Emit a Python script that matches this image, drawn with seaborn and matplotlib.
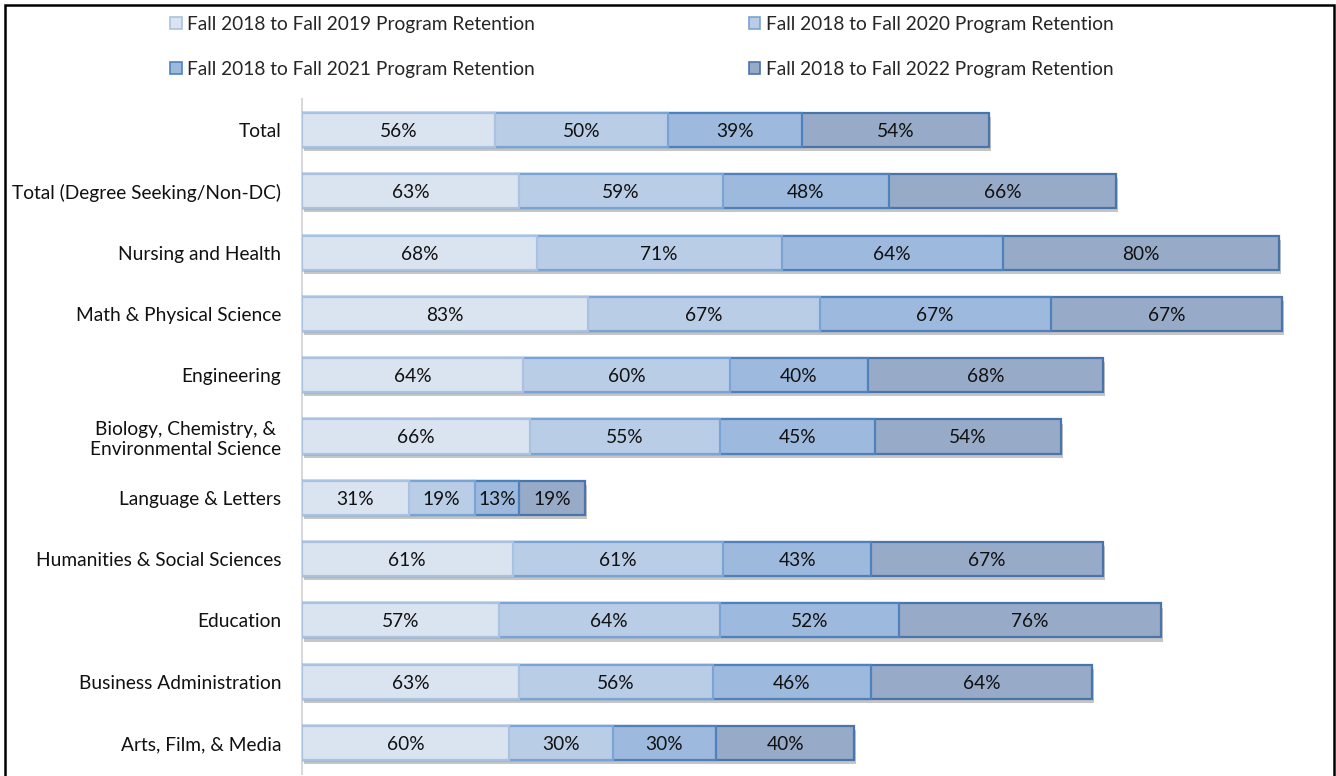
import numpy as np
import pandas as pd
import matplotlib
matplotlib.use("Agg")
import matplotlib.pyplot as plt
import matplotlib.patheffects as pe
from matplotlib.patches import Patch, Rectangle
import seaborn as sns

categories = ["Total", "Total (Degree Seeking/Non-DC)", "Nursing and Health",
              "Math & Physical Science", "Engineering",
              "Biology, Chemistry, &\nEnvironmental Science", "Language & Letters",
              "Humanities & Social Sciences", "Education", "Business Administration",
              "Arts, Film, & Media"]
r2019 = [56, 63, 68, 83, 64, 66, 31, 61, 57, 63, 60]
r2020 = [50, 59, 71, 67, 60, 55, 19, 61, 64, 56, 30]
r2021 = [39, 48, 64, 67, 40, 45, 13, 43, 52, 46, 30]
r2022 = [54, 66, 80, 67, 68, 54, 19, 67, 76, 64, 40]
series_names = ["Fall 2018 to Fall 2019 Program Retention",
                "Fall 2018 to Fall 2020 Program Retention",
                "Fall 2018 to Fall 2021 Program Retention",
                "Fall 2018 to Fall 2022 Program Retention"]
series = [r2019, r2020, r2021, r2022]

fills = ["#dae4f1", "#b9cde6", "#9dbade", "#97aac8"]
edges = ["#a9c2e0", "#7aa3d6", "#4f81bd", "#4a75ab"]

FS = 13.8

sns.set_theme(style="white")
plt.rcParams["font.family"] = ["Lato", "DejaVu Sans"]

fig = plt.figure(figsize=(13.36, 7.76), dpi=100)
ax = fig.add_axes([302 / 1336, 0.003, (1320 - 302) / 1336, 0.869])

vals = np.array(series, dtype=float)
cum = np.cumsum(vals, axis=0)

# draw from the full stack down so shorter layers overlay
for k in range(3, -1, -1):
    df = pd.DataFrame({"cat": categories, "cum": cum[k]})
    sns.barplot(data=df, x="cum", y="cat", orient="h", color=fills[k],
                edgecolor=edges[k], linewidth=1.6, width=0.555,
                errorbar=None, saturation=1, ax=ax, zorder=3 + (3 - k))
    if k == 3:
        for p in ax.patches:
            p.set_path_effects([pe.SimplePatchShadow(offset=(1.5, -3),
                                                     shadow_rgbFace="#7f7f7f",
                                                     alpha=0.45),
                                pe.Normal()])

for k in range(4):
    start = cum[k] - vals[k]
    for i, v in enumerate(vals[k]):
        ax.text(start[i] + v / 2, i, f"{int(v)}%", ha="center", va="center_baseline",
                fontsize=FS, color="#111111", zorder=20)

ax.set_xlim(0, 295)
ax.set_xlabel("")
ax.set_ylabel("")
ax.set_xticks([])
for s in ["top", "right", "bottom"]:
    ax.spines[s].set_visible(False)
ax.spines["left"].set_color("#d9d9d9")
ax.spines["left"].set_linewidth(1.5)
ax.tick_params(axis="y", length=0, pad=15, labelsize=FS, labelcolor="#111111")
for t in ax.get_yticklabels():
    t.set_horizontalalignment("right")
    t.set_multialignment("center")

handles = [Patch(facecolor=fills[k], edgecolor=edges[k], linewidth=1.2) for k in range(4)]
order = [0, 2, 1, 3]
fig.legend([handles[k] for k in order], [series_names[k] for k in order],
           ncol=2, loc="upper left", bbox_to_anchor=(170 / 1336, 1 - 16 / 776),
           frameon=False, fontsize=FS, handlelength=0.6, handleheight=0.6,
           handletextpad=0.3, labelspacing=1.45, columnspacing=11.15, borderpad=0,
           borderaxespad=0)

fig.add_artist(Rectangle((5 / 1336, -0.05), (1334 - 5) / 1336, 1 - 5 / 776 + 0.05,
                         transform=fig.transFigure, fill=False, edgecolor="black",
                         linewidth=1.8, zorder=50))

fig.savefig("out.png", dpi=100)
